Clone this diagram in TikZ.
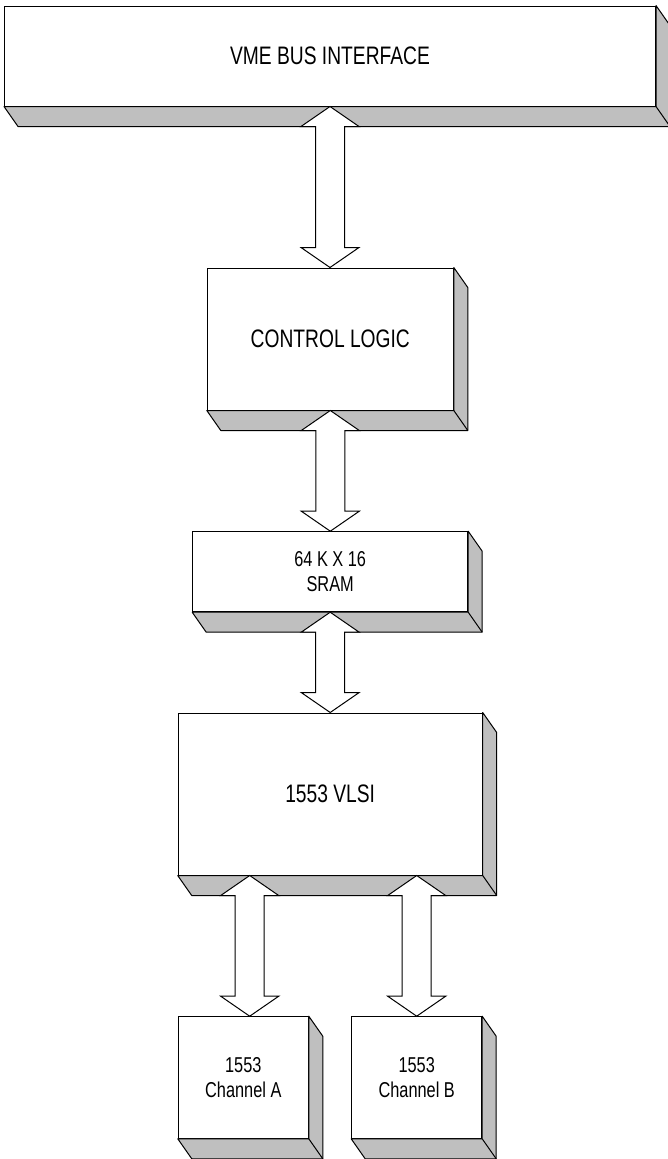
\documentclass[tikz,border=0pt]{standalone}
\usepackage{fontspec}
\setmainfont[FakeStretch=0.76]{Liberation Sans}
\usetikzlibrary{calc}

\begin{document}
\begin{tikzpicture}[
    x=1pt, y=-1pt,
    line width=1pt,
    block/.style={
        draw=black,
        fill=white,
        inner sep=0pt,
        align=center,
        font=\fontsize{25.3}{30}\selectfont
    },
    small/.style={
        font=\fontsize{21.5}{25}\selectfont
    },
    slab/.style={
        draw=black,
        fill=black!25,
        line join=round
    },
    bus/.style={
        draw=black,
        fill=white,
        line join=miter
    }
]
\useasboundingbox (0,0) rectangle (668,1159);

% Blocks
\node[block, minimum width=651pt, minimum height=100pt] (vme) at (330,56) {VME BUS INTERFACE};
\node[block, minimum width=246pt, minimum height=142pt] (ctrl) at (330.3,339) {CONTROL LOGIC};
\node[block, small, minimum width=275pt, minimum height=80pt] (sram) at (330.2,571.7) {64 K X 16\\SRAM};
\node[block, minimum width=304pt, minimum height=162pt] (vlsi) at (330.2,794) {1553 VLSI};
\node[block, small, minimum width=130pt, minimum height=121.6pt] (chA) at (243.3,1077.5) {1553\\Channel A};
\node[block, small, minimum width=130pt, minimum height=121.6pt] (chB) at (416.7,1077.5) {1553\\Channel B};

% Extrusions (right side and bottom)
\foreach \b in {vme,ctrl,sram,vlsi,chA,chB} {
    \draw[slab] (\b.north east) -- ++(14,20) -- ($(\b.south east)+(14,20)$) -- ($(\b.south west)+(14,20)$) -- (\b.south west) -- (\b.south east) -- cycle;
    \draw (\b.south east) -- ++(14,20);
}

% Taps on the VLSI for the two channels
\coordinate (tapA) at ($(vlsi.south west)+(72,0)$);
\coordinate (tapB) at (chB.north |- vlsi.south);

% Bus arrows
\foreach \a/\b in {vme.south/ctrl.north, ctrl.south/sram.north, sram.south/vlsi.north, tapA/chA.north, tapB/chB.north} {
    \coordinate (tip) at (\a |- \b);
    \draw[bus] (\a) -- ++(29,20) -- ++(-14.5,0) -- ($(tip)+(14.5,-20)$) -- ++(14.5,0) -- (tip) -- ++(-29,-20) -- ++(14.5,0) -- ($(\a)+(-14.5,20)$) -- ++(-14.5,0) -- cycle;
}

\end{tikzpicture}
\end{document}
